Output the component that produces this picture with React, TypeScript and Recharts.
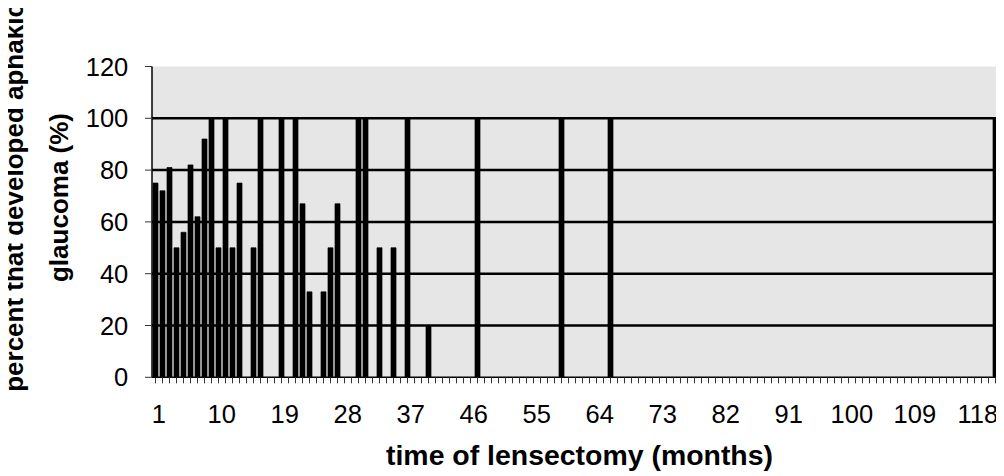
import React from 'react';
import { BarChart, Bar, XAxis, YAxis, CartesianGrid, ReferenceLine } from 'recharts';

// Months shown on the category axis
const firstMonth = 1;
const lastMonth = 121;

// Months that have a bar, and the percent that developed aphakic glaucoma
const barMonths = [1, 2, 3, 4, 5, 6, 7, 8, 9, 10, 11, 12, 13, 15, 16, 19, 21, 22, 23, 25, 26, 27, 30, 31, 33, 35, 37, 40, 47, 59, 66, 121];
const barPercents = [75, 72, 81, 50, 56, 82, 62, 92, 100, 50, 100, 50, 75, 50, 100, 100, 100, 67, 33, 33, 50, 67, 100, 100, 50, 50, 100, 20, 100, 100, 100, 100];

const xTickLabels = [1, 10, 19, 28, 37, 46, 55, 64, 73, 82, 91, 100, 109, 118];
const yTicks = [0, 20, 40, 60, 80, 100, 120];
const gridValues = [20, 40, 60, 80, 100];

const xTitle = 'time of lensectomy (months)';
const yTitleLine1 = 'percent that developed aphakic';
const yTitleLine2 = 'glaucoma (%)';

const data: { month: number; percent: number | null }[] = [];
for (let m = firstMonth; m <= lastMonth; m++) {
  const i = barMonths.indexOf(m);
  data.push({ month: m, percent: i >= 0 ? barPercents[i] : null });
}

const FONT = '"Liberation Sans", Arial, Helvetica, sans-serif';
const W = 996;
const H = 468;

const XTick = (props: any) => {
  const { x, y, payload } = props;
  if (!xTickLabels.includes(payload.value)) return <g />;
  return (
    <text x={x + 3.3} y={y + 38} textAnchor="middle" fontSize={25.5} fontFamily={FONT} fill="#000">
      {payload.value}
    </text>
  );
};

export default function App() {
  return (
    <div style={{ position: 'relative', width: W, height: H }}>
      <BarChart
        width={W}
        height={H}
        data={data}
        margin={{ top: 58.5, right: 5, bottom: 38.7, left: 84 }}
        barCategoryGap={0}
      >
        <CartesianGrid horizontal={false} vertical={false} fill="#e6e6e6" fillOpacity={1} />
        <XAxis
          dataKey="month"
          interval={0}
          tick={<XTick />}
          tickSize={6}
          tickMargin={2}
          height={60}
          tickLine={{ stroke: '#333', strokeWidth: 1 }}
          axisLine={{ stroke: '#000', strokeWidth: 1.5 }}
        />
        <XAxis
          xAxisId="top"
          orientation="top"
          dataKey="month"
          height={0}
          tick={false}
          tickLine={false}
          axisLine={{ stroke: '#9a9a9a', strokeWidth: 1.5 }}
        />
        <YAxis
          domain={[0, 120]}
          ticks={yTicks}
          interval={0}
          width={60}
          tickSize={7}
          tickMargin={16.7}
          tick={{ fontSize: 25.5, fontFamily: FONT, fill: '#000' }}
          tickLine={{ stroke: '#333', strokeWidth: 1 }}
          axisLine={{ stroke: '#000', strokeWidth: 1.5 }}
        />
        <YAxis
          yAxisId="right"
          orientation="right"
          domain={[0, 120]}
          width={0}
          tick={false}
          tickLine={false}
          axisLine={{ stroke: '#9a9a9a', strokeWidth: 1.5 }}
        />
        {gridValues.map((v) => (
          <ReferenceLine key={v} y={v} stroke="#000" strokeWidth={2.5} />
        ))}
        <Bar
          dataKey="percent"
          fill="#000"
          stroke="#000"
          strokeWidth={0.7}
          barSize={5}
          isAnimationActive={false}
        />
      </BarChart>
      <svg
        width={W + 8}
        height={H + 8}
        viewBox={`-8 -8 ${W + 8} ${H + 8}`}
        style={{ position: 'absolute', left: -8, top: -8, pointerEvents: 'none', overflow: 'visible' }}
      >
        <text
          x={571.5}
          y={457}
          textAnchor="middle"
          fontSize={27}
          fontWeight="bold"
          fontFamily={FONT}
          fill="#000"
          textLength={387}
          lengthAdjust="spacingAndGlyphs"
        >
          {xTitle}
        </text>
        <text
          transform="translate(15.3,189.5) rotate(-90)"
          textAnchor="middle"
          fontSize={26}
          fontWeight="bold"
          fontFamily={FONT}
          fill="#000"
        >
          {yTitleLine1}
        </text>
        <text
          transform="translate(59.6,189.5) rotate(-90)"
          textAnchor="middle"
          fontSize={26}
          fontWeight="bold"
          fontFamily={FONT}
          fill="#000"
        >
          {yTitleLine2}
        </text>
      </svg>
    </div>
  );
}
